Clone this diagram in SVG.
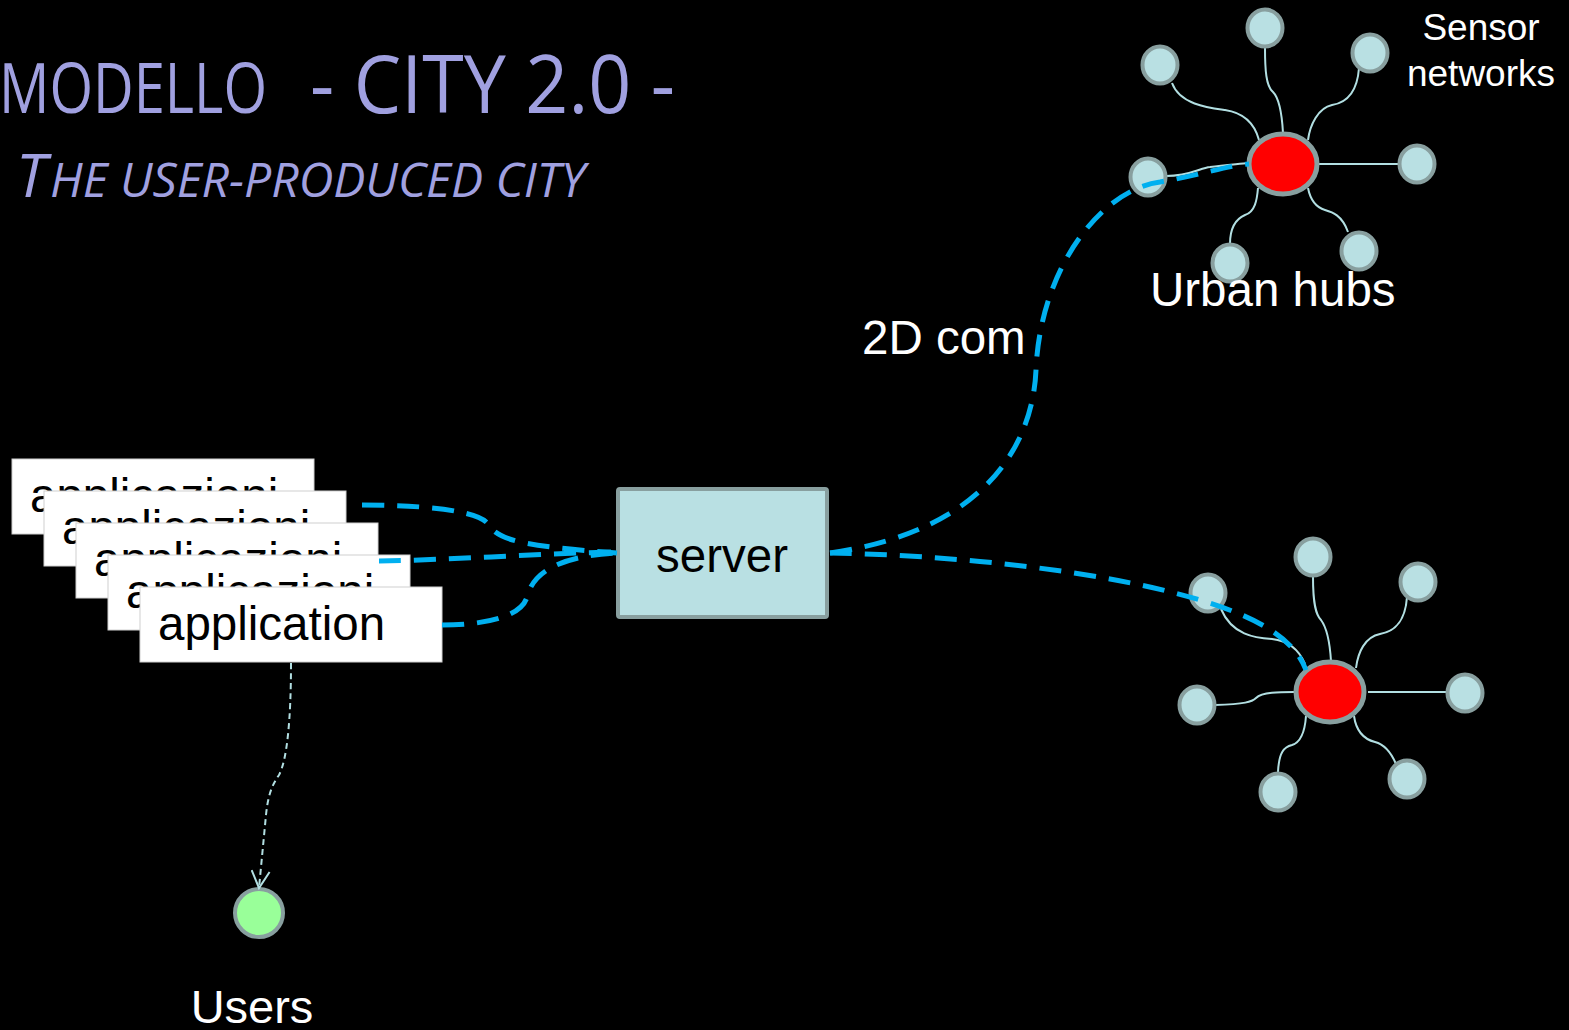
<svg xmlns="http://www.w3.org/2000/svg" width="1569" height="1030" viewBox="0 0 1569 1030">
  <style>
    .title { font-family: "Open Sans", "Liberation Sans", sans-serif; fill: #a0a0e0; }
    .lbl { font-family: "Liberation Sans", Arial, sans-serif; fill: #ffffff; }
    .dark { font-family: "Liberation Sans", Arial, sans-serif; fill: #000000; font-size: 47.5px; }
    .card { fill: #ffffff; stroke: #d0d0d0; stroke-width: 1; }
    .sat { fill: #b9e0e3; stroke: #889f9f; stroke-width: 4; }
    .hub { fill: #ff0000; stroke: #889f9f; stroke-width: 5; }
    .link { fill: none; stroke: #b2dfe2; stroke-width: 2; }
    .com { fill: none; stroke: #00b0f0; stroke-width: 5; stroke-dasharray: 22 13; }
    .use { fill: none; stroke: #b2dfe2; stroke-width: 2; stroke-dasharray: 6 4; }
  </style>
  <defs>
    <!-- open V arrowhead, tip at the path end -->
    <marker id="vhead" viewBox="0 0 20 20" refX="18" refY="10" markerWidth="20" markerHeight="20" markerUnits="userSpaceOnUse" orient="auto">
      <path d="M1,1 L18,10 L1,19" fill="none" stroke="#b2dfe2" stroke-width="2"/>
    </marker>
  </defs>

  <rect x="0" y="0" width="1569" height="1030" fill="#000000"/>

  <!-- title -->
  <g id="title">
    <text class="title" x="-1" y="113" font-size="70" textLength="268" lengthAdjust="spacingAndGlyphs">MODELLO</text>
    <text class="title" x="310" y="113" font-size="80" textLength="365" lengthAdjust="spacingAndGlyphs">- CITY 2.0 -</text>
    <text class="title" x="16" y="197" font-size="61" font-style="italic">T</text>
    <text class="title" x="50" y="197" font-size="48" font-style="italic" textLength="535" lengthAdjust="spacingAndGlyphs">HE USER-PRODUCED CITY</text>
  </g>

  <!-- stacked application cards -->
  <g id="app1">
    <rect class="card" x="12" y="459" width="302" height="75"/>
    <text class="dark" x="30" y="512">applicazioni</text>
  </g>
  <g id="app2">
    <rect class="card" x="44" y="491" width="302" height="75"/>
    <text class="dark" x="62" y="544">applicazioni</text>
  </g>
  <g id="app3">
    <rect class="card" x="76" y="523" width="302" height="75"/>
    <text class="dark" x="94" y="576">applicazioni</text>
  </g>
  <g id="app4">
    <rect class="card" x="108" y="555" width="302" height="75"/>
    <text class="dark" x="126" y="608">applicazioni</text>
  </g>
  <g id="app5">
    <rect class="card" x="140" y="587" width="302" height="75"/>
    <text class="dark" x="158" y="640">application</text>
  </g>

  <!-- server -->
  <g id="server">
    <rect x="618" y="489" width="209" height="128" fill="#b9e0e3" stroke="#889f9f" stroke-width="4" rx="2"/>
    <text class="dark" x="722" y="572" text-anchor="middle">server</text>
  </g>

  <!-- users -->
  <g id="users">
    <circle cx="259" cy="913" r="24" fill="#99ff99" stroke="#889f9f" stroke-width="4"/>
    <text class="lbl" x="252" y="1023" font-size="47" text-anchor="middle">Users</text>
  </g>

  <!-- hub-to-sensor links -->
  <g id="links">
    <path class="link" d="M1172,83 C1180,105 1210,108 1225,110 C1245,113 1255,125 1259,140"/>
    <path class="link" d="M1265,48 C1265,70 1266,86 1273,92 C1280,99 1282,115 1283,133"/>
    <path class="link" d="M1359,68 C1357,95 1345,103 1332,105 C1318,108 1310,125 1308,140"/>
    <path class="link" d="M1319,164 L1398,164"/>
    <path class="link" d="M1166,176 C1190,176 1200,168 1210,167 C1225,165 1240,164 1248,163"/>
    <path class="link" d="M1230,244 C1230,225 1238,218 1245,215 C1255,212 1257,200 1258,188"/>
    <path class="link" d="M1348,232 C1342,215 1332,212 1325,210 C1315,207 1310,198 1308,188"/>

    <path class="link" d="M1221,609 C1232,635 1255,638 1272,639 C1290,641 1300,652 1305,664"/>
    <path class="link" d="M1313,577 C1313,605 1316,615 1321,620 C1327,628 1330,645 1331,661"/>
    <path class="link" d="M1407,597 C1405,625 1392,632 1380,634 C1365,637 1358,652 1356,668"/>
    <path class="link" d="M1368,692 L1446,692"/>
    <path class="link" d="M1215,705 C1245,704 1252,702 1256,698 C1262,692 1280,692 1294,692"/>
    <path class="link" d="M1278,772 C1279,752 1284,747 1292,745 C1302,742 1305,730 1306,716"/>
    <path class="link" d="M1396,764 C1390,750 1383,744 1375,742 C1363,739 1356,730 1354,716"/>
  </g>

  <!-- urban hub, top -->
  <g id="hub-top">
    <ellipse class="hub" cx="1283" cy="164" rx="34" ry="30"/>
    <ellipse class="sat" cx="1160" cy="65" rx="17.5" ry="18.5"/>
    <ellipse class="sat" cx="1265" cy="28" rx="17.5" ry="18.5"/>
    <ellipse class="sat" cx="1370" cy="53" rx="17.5" ry="18.5"/>
    <ellipse class="sat" cx="1417" cy="164" rx="17.5" ry="18.5"/>
    <ellipse class="sat" cx="1148" cy="177" rx="17.5" ry="18.5"/>
    <ellipse class="sat" cx="1230" cy="263" rx="17.5" ry="18.5"/>
    <ellipse class="sat" cx="1359" cy="251" rx="17.5" ry="18.5"/>
  </g>

  <!-- urban hub, bottom -->
  <g id="hub-bottom">
    <ellipse class="hub" cx="1330" cy="692" rx="34" ry="30"/>
    <ellipse class="sat" cx="1208" cy="593" rx="17.5" ry="18.5"/>
    <ellipse class="sat" cx="1313" cy="557" rx="17.5" ry="18.5"/>
    <ellipse class="sat" cx="1418" cy="582" rx="17.5" ry="18.5"/>
    <ellipse class="sat" cx="1465" cy="693" rx="17.5" ry="18.5"/>
    <ellipse class="sat" cx="1197" cy="705" rx="17.5" ry="18.5"/>
    <ellipse class="sat" cx="1278" cy="792" rx="17.5" ry="18.5"/>
    <ellipse class="sat" cx="1407" cy="779" rx="17.5" ry="18.5"/>
  </g>

  <!-- labels -->
  <g id="labels">
    <text class="lbl" x="1481" y="40" font-size="37" text-anchor="middle">Sensor</text>
    <text class="lbl" x="1481" y="86" font-size="37" text-anchor="middle">networks</text>
    <text class="lbl" x="1150" y="306" font-size="47.5">Urban hubs</text>
    <text class="lbl" x="862" y="354" font-size="47.5">2D com</text>
  </g>

  <!-- connectors -->
  <g id="connectors">
    <path class="com" d="M362,505 C420,505 478,510 488,524 C498,540 520,546 617,553"/>
    <path class="com" d="M379,561 C450,560 550,553 617,552"/>
    <path class="com" d="M442,625 C490,625 522,615 527,597 C533,572 560,556 617,553"/>
    <path class="com" d="M830,553 C990,530 1033,440 1036,370 C1040,270 1100,190 1160,182 C1200,175 1230,165 1249,164"/>
    <path class="com" d="M830,553 C950,555 1100,570 1200,600 C1260,618 1295,640 1306,670"/>
    <path class="use" d="M291,663 C291,720 287,760 279,775 C272,785 268,795 266,815 L259,888" marker-end="url(#vhead)"/>
  </g>
</svg>
